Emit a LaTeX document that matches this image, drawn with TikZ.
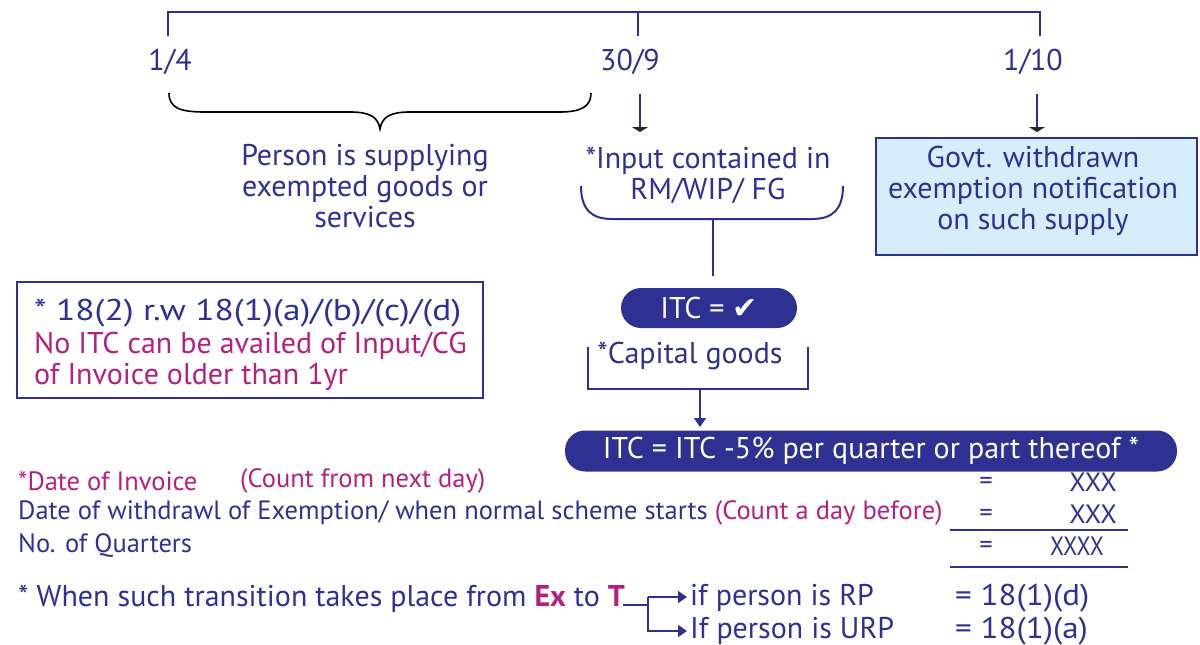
\documentclass[tikz,border=0pt]{standalone}
\usepackage{fontspec}
\setmainfont{PT Sans}
\newfontfamily\dejavu{DejaVu Sans}
\usetikzlibrary{arrows.meta}
\definecolor{navy}{HTML}{2E3192}
\definecolor{mag}{HTML}{B3207F}
\definecolor{lblue}{HTML}{D6EEFA}
\tikzset{
  txt/.style={text=navy, font=\fontsize{30}{31}\selectfont, inner sep=0pt},
  mtxt/.style={text=mag, font=\fontsize{30}{31}\selectfont, inner sep=0pt},
  stxt/.style={text=navy, font=\fontsize{26.5}{31}\selectfont, inner sep=0pt},
  smtxt/.style={text=mag, font=\fontsize{26.5}{31}\selectfont, inner sep=0pt},
  ln/.style={draw=navy, line width=2pt},
  darr/.style={draw=navy, line width=1.6pt, -{Triangle[width=16pt,length=5pt,color=black!85]}},
  barr/.style={draw=navy, line width=1.6pt, -{Triangle[width=12pt,length=9pt]}},
  pill/.style={fill=navy, rounded corners=20pt, text=white, font=\fontsize{30}{31}\selectfont, inner sep=0pt},
}
\begin{document}
\begin{tikzpicture}[x=1pt,y=-1pt]
\useasboundingbox (0,0) rectangle (1200,645);
% timeline
\coordinate (t1) at (168,36);
\coordinate (t2) at (638,36);
\coordinate (t3) at (1040,36);
\draw[ln] (t1) -- (168,12) -- (1040,12) -- (t3);
\draw[ln] (638,12) -- (t2);
\node[txt] (d1) at (170,62) {1/4};
\node[txt] (d2) at (630,62) {30/9};
\node[txt] (d3) at (1033,62) {1/10};
% black brace
\draw[black, line width=1.6pt] (169,93) .. controls (169,108) and (180,112) .. (205,112) -- (350,112)
  .. controls (370,112) and (378,117) .. (380,129) .. controls (382,117) and (390,112) .. (410,112) -- (560,112)
  .. controls (582,112) and (591,106) .. (591,93);
\node[txt, align=center] (pers) at (365,186) {Person is supplying\\exempted goods or\\services};
% 30/9 branch
\coordinate (a1s) at (640,94);
\coordinate (a1e) at (640,132);
\draw[darr] (a1s) -- (a1e);
\node[txt, align=center] (inp) at (708,175) {*Input contained in\\RM/WIP/ FG};
\draw[ln] (581,186) .. controls (581,210) and (592,219) .. (612,219) -- (812,219)
  .. controls (832,219) and (843,210) .. (843,186);
\coordinate (vb) at (713,219);
\coordinate (ve) at (713,276);
\draw[ln] (vb) -- (ve);
\node[pill, minimum width=176pt, minimum height=40pt] (itc1) at (709,308) {ITC = {\dejavu ✔}};
% capital goods bracket
\draw[ln] (588,347) -- (588,389) -- (808,389) -- (808,347);
\node[txt] (cap) at (690,356) {*Capital goods};
\coordinate (a2s) at (700,389);
\draw[barr] (a2s) -- (700,427);
\node[pill, minimum width=612pt, minimum height=41pt] (itc2) at (871,451) {ITC = ITC -5\% per quarter or part thereof *};
% 1/10 branch
\draw[darr] (1037,94) -- (1037,132);
\node[draw=navy, line width=2pt, fill=lblue, minimum width=321pt, minimum height=117pt, inner sep=0pt] (govt) at (1036,196) {};
\node[txt, align=center] (govtt) at (1033,191) {Govt. withdrawn\\exemption notification\\on such supply};
% left box
\node[draw=navy, line width=2pt, minimum width=466pt, minimum height=116pt, inner sep=0pt] (lbox) at (250,340) {};
\node[txt, anchor=west, align=left] (lb1) at (34,313) {\scalebox{1.18}[1]{* 18(2) r.w 18(1)(a)/(b)/(c)/(d)}};
\node[mtxt, anchor=west, align=left] (lb2) at (34,361) {No ITC can be availed of Input/CG\\of Invoice older than 1yr};
% calculation
\node[smtxt, anchor=west] (c1) at (18,481) {*Date of Invoice};
\node[smtxt, anchor=west] (c1b) at (240,481) {(Count from next day)};
\node[stxt, anchor=west] (c2) at (18,513) {Date of withdrawl of Exemption/ when normal scheme starts \textcolor{mag}{(Count a day before)}};
\node[stxt, anchor=west] (c3) at (18,545) {No. of Quarters};
\node[stxt] (e1) at (986,483) {=};
\node[stxt] (e2) at (986,515) {=};
\node[stxt] (e3) at (986,547) {=};
\node[stxt] (x1) at (1093,482) {XXX};
\node[stxt] (x2) at (1093,514) {XXX};
\node[stxt] (x3) at (1077,546) {\scalebox{0.85}[1]{XXXX}};
\coordinate (l1a) at (950,530);
\coordinate (l1b) at (1128,530);
\coordinate (l2a) at (950,567);
\coordinate (l2b) at (1128,567);
\draw[ln] (l1a) -- (l1b);
\draw[ln] (l2a) -- (l2b);
% transition
\node[txt, anchor=west] (tr) at (18,599) {* When such transition takes place from \textcolor{mag}{\bfseries Ex} to \textcolor{mag}{\bfseries T}};
\coordinate (tj) at (648,605);
\node[txt, anchor=west] (rp) at (690,598) {if person is RP};
\node[txt, anchor=west] (urp) at (690,631) {If person is URP};
\draw[ln] (tr.east |- tj) ++(-2,0) -- (tj);
\draw[barr, shorten >=3pt] (648,597) -- (rp.west |- 597,597);
\draw[barr, shorten >=3pt] (648,597) -- (648,631) -- (urp.west);
\node[txt, anchor=west] (s1) at (955,598) {\scalebox{1.1}[1]{= 18(1)(d)}};
\node[txt, anchor=west] (s2) at (955,631) {\scalebox{1.1}[1]{= 18(1)(a)}};
\end{tikzpicture}
\end{document}
